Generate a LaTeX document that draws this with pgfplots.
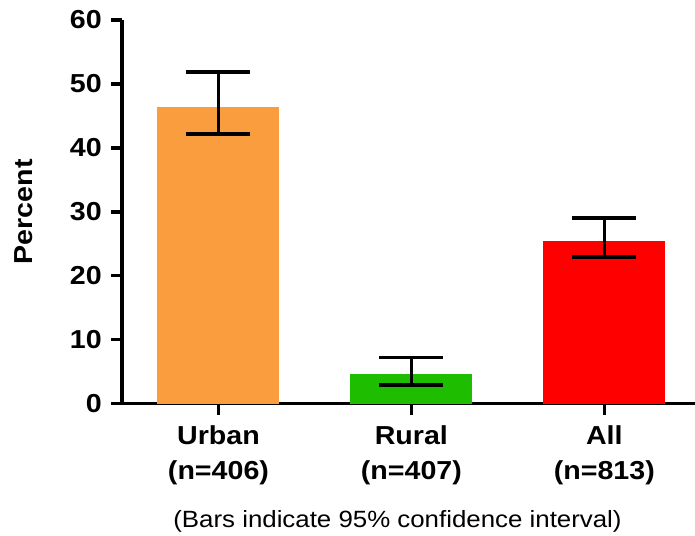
\documentclass[border=0pt]{standalone}
\usepackage{pgfplots}
\pgfplotsset{compat=1.18}
\usepackage{fontspec}
\setmainfont{Liberation Sans}[FakeStretch=1.1]
\definecolor{corange}{RGB}{250,157,63}
\definecolor{cgreen}{RGB}{30,189,0}
\definecolor{cred}{RGB}{255,0,0}
\begin{document}
\fontsize{24}{35}\selectfont
\begin{tikzpicture}
\path[use as bounding box] (-122pt,-131.5pt) rectangle (573pt,403.5pt);
\begin{axis}[
  at={(0pt,0pt)}, anchor=south west,
  width=573pt, height=383.5pt, scale only axis,
  xmin=-0.5, xmax=2.47, ymin=0, ymax=60,
  axis x line=bottom, axis y line=left,
  axis line style={-, line width=3.5pt, black},
  ytick={0,10,20,30,40,50,60},
  xtick={0,1,2},
  xticklabels={{Urban\\(n=406)},{Rural\\(n=407)},{All\\(n=813)}},
  tick align=outside,
  major tick length=11pt,
  every tick/.style={black, line width=3.5pt},
  /pgf/number format/assume math mode=true,
  tick label style={font=\fontsize{26}{35}\selectfont\bfseries},
  xticklabel style={align=center, yshift=-3pt},
  yticklabel style={xshift=-1pt},
  ylabel={\bfseries Percent},
  every axis y label/.style={at={(axis description cs:-0.157,0.5)}, rotate=90, anchor=base, font=\fontsize{26}{35}\selectfont},
  ybar, bar width=122pt, bar shift=0pt,
  clip=false,
]
\addplot[fill=corange, draw=none,
  error bars/.cd, y dir=both, y explicit,
  error bar style={line width=3.5pt, black},
  error mark options={rotate=90, mark size=32pt, line width=3.5pt, black}]
  coordinates {(0,46.4) += (0,5.5) -= (0,4.2)};
\addplot[fill=cgreen, draw=none,
  error bars/.cd, y dir=both, y explicit,
  error bar style={line width=3.5pt, black},
  error mark options={rotate=90, mark size=32pt, line width=3.5pt, black}]
  coordinates {(1,4.6) += (0,2.6) -= (0,1.7)};
\addplot[fill=cred, draw=none,
  error bars/.cd, y dir=both, y explicit,
  error bar style={line width=3.5pt, black},
  error mark options={rotate=90, mark size=32pt, line width=3.5pt, black}]
  coordinates {(2,25.5) += (0,3.5) -= (0,2.6)};
\end{axis}
\node[anchor=base, font=\fontsize{23.5}{28}\selectfont] at (275.5pt,-123.5pt) {(Bars indicate 95\% confidence interval)};
\end{tikzpicture}
\end{document}
